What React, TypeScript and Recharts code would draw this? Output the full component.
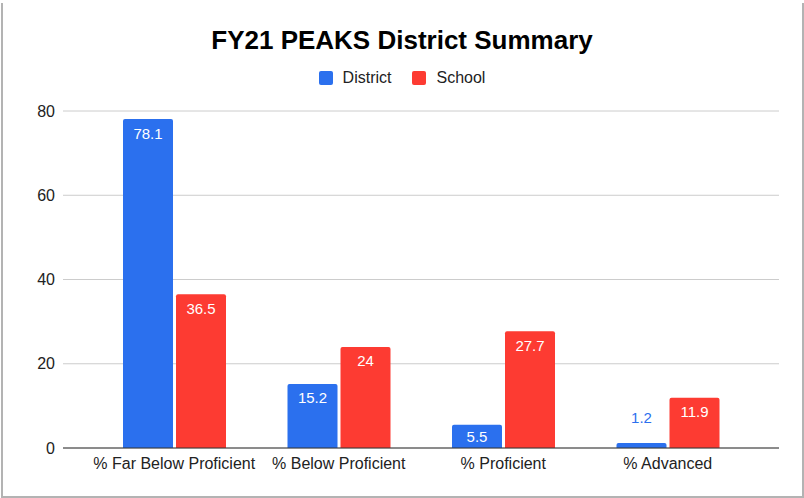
import React from "react";
import { BarChart, Bar, XAxis, YAxis, CartesianGrid, Legend, LabelList } from "recharts";

const categories = ["% Far Below Proficient", "% Below Proficient", "% Proficient", "% Advanced"];
const districtValues = [78.1, 15.2, 5.5, 1.2];
const schoolValues = [36.5, 24, 27.7, 11.9];
const yTicks = [0, 20, 40, 60, 80];
const title = "FY21 PEAKS District Summary";
const seriesNames = ["District", "School"];

const BLUE = "#2b70ee";
const RED = "#fd3b32";
const FONT = "'Liberation Sans', Arial, Helvetica, sans-serif";

const data = categories.map((c, i) => ({
  name: c,
  District: districtValues[i],
  School: schoolValues[i],
}));

const makeLabel = (color: string) => (props: any) => {
  const { x, y, width, height, value } = props;
  const inside = height >= 18;
  const cx = x + width / 2;
  const cy = inside ? y + Math.min(14, height / 2) : y - 25;
  return (
    <text
      x={cx}
      y={cy}
      textAnchor="middle"
      dominantBaseline="central"
      fill={inside ? "#ffffff" : color}
      fontSize={15}
      fontFamily={FONT}
    >
      {value}
    </text>
  );
};

const LegendContent = () => (
  <div style={{ position: "relative", width: 804, height: 91, fontFamily: FONT }}>
    <div
      style={{
        position: "absolute",
        top: 6,
        left: 0,
        width: 804,
        height: 28,
        lineHeight: "28px",
        textAlign: "center",
        fontSize: 26,
        fontWeight: "bold",
        color: "#000",
      }}
    >
      {title}
    </div>
    <div
      style={{
        position: "absolute",
        top: 50,
        left: 0,
        width: 804,
        height: 16,
        display: "flex",
        justifyContent: "center",
        alignItems: "center",
        fontSize: 16,
        lineHeight: "16px",
        color: "#222",
      }}
    >
      {seriesNames.map((n, i) => (
        <div key={n} style={{ display: "flex", alignItems: "center", marginLeft: i === 0 ? 0 : 21 }}>
          <div
            style={{
              width: 14,
              height: 14,
              borderRadius: 2,
              background: i === 0 ? BLUE : RED,
              marginRight: 10,
            }}
          />
          <span>{n}</span>
        </div>
      ))}
    </div>
  </div>
);

export default function App() {
  return (
    <div style={{ position: "absolute", left: 0, top: 0, width: 804, height: 498, background: "#fff" }}>
      <div
        style={{
          position: "absolute",
          left: 1,
          top: 3,
          width: 799,
          height: 493,
          borderLeft: "2px solid #b3b3b3",
          borderRight: "2px solid #b3b3b3",
          borderBottom: "2px solid #b3b3b3",
        }}
      />
      <div style={{ position: "absolute", left: 0, top: 0 }}>
        <BarChart
          width={804}
          height={498}
          data={data}
          margin={{ top: 20, right: 25, left: 0, bottom: 0 }}
          barSize={50}
          barGap={3}
        >
          <CartesianGrid vertical={false} stroke="#cccccc" />
          <XAxis
            dataKey="name"
            height={50}
            padding={{ left: 29, right: 29 }}
            tickLine={false}
            axisLine={{ stroke: "#333333" }}
            tick={{ fill: "#222", fontSize: 16, fontFamily: FONT, dy: 2 }}
            interval={0}
          />
          <YAxis
            width={63}
            domain={[0, 80]}
            ticks={yTicks}
            axisLine={false}
            tickLine={false}
            tick={{ fill: "#222", fontSize: 16, fontFamily: FONT }}
          />
          <Legend
            verticalAlign="top"
            align="center"
            wrapperStyle={{ left: 0, width: 804, top: 20 }}
            content={<LegendContent />}
          />
          <Bar dataKey="District" fill={BLUE} radius={[2, 2, 0, 0]} isAnimationActive={false}>
            <LabelList dataKey="District" content={makeLabel(BLUE)} />
          </Bar>
          <Bar dataKey="School" fill={RED} radius={[2, 2, 0, 0]} isAnimationActive={false}>
            <LabelList dataKey="School" content={makeLabel(RED)} />
          </Bar>
        </BarChart>
      </div>
    </div>
  );
}
